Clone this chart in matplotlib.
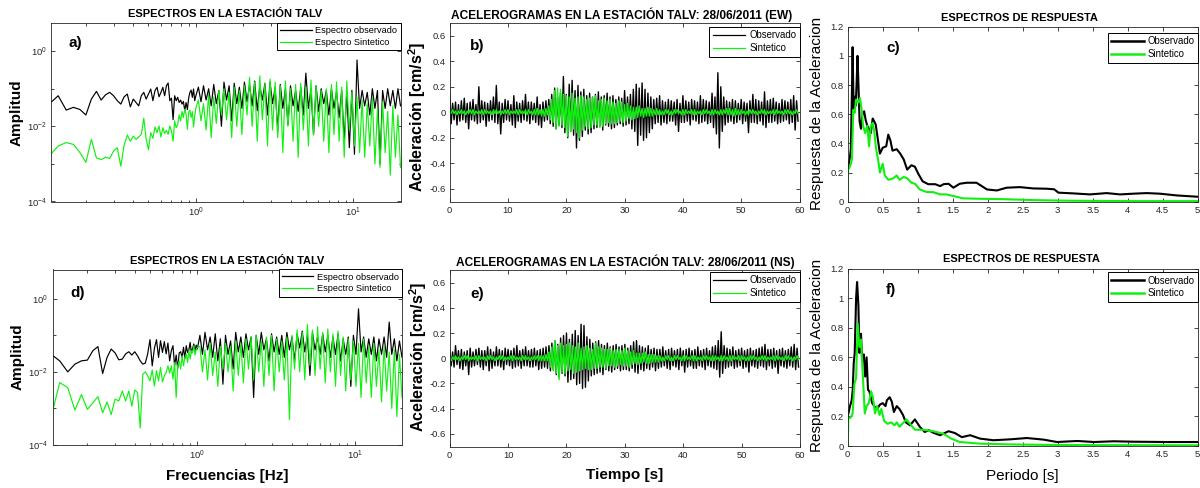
import numpy as np
import matplotlib
matplotlib.use("Agg")
import matplotlib.pyplot as plt
from matplotlib.ticker import FixedLocator, NullFormatter, LogFormatterMathtext, FuncFormatter

plt.rcParams['font.family'] = ['Liberation Sans', 'DejaVu Sans']
plt.rcParams['axes.unicode_minus'] = False
plt.rcParams['mathtext.fontset'] = 'custom'
plt.rcParams['mathtext.rm'] = 'Liberation Sans'
plt.rcParams['mathtext.bf'] = 'Liberation Sans:bold'
plt.rcParams['mathtext.it'] = 'Liberation Sans:italic'

GREEN = '#12f012'
AXC = '#262626'

# ---------------- Fourier amplitude spectra (station TALV) ----------------
# low band: FFT bins k/60 Hz, k = 7..60 ; high band: 80 samples from 1 to 20 Hz
bins_lo = np.arange(7, 61)
n_hi = 80

ew_spec_obs_lo = [0.039, 0.065, 0.027, 0.032, 0.028, 0.020, 0.053, 0.085, 0.050, 0.069,
                  0.080, 0.065, 0.048, 0.039, 0.061, 0.072, 0.033, 0.053, 0.043, 0.035,
                  0.065, 0.080, 0.053, 0.072, 0.098, 0.048, 0.089, 0.109, 0.061, 0.080,
                  0.109, 0.065, 0.120, 0.142, 0.048, 0.056, 0.015, 0.065, 0.048, 0.059,
                  0.043, 0.050, 0.039, 0.046, 0.026, 0.043, 0.028, 0.056, 0.080, 0.092,
                  0.059, 0.098, 0.048, 0.065]
ew_spec_obs_hi = [0.11, 0.045, 0.12, 0.05, 0.10, 0.035, 0.13, 0.04, 0.09, 0.010,
                  0.15, 0.05, 0.12, 0.014, 0.14, 0.04, 0.11, 0.03, 0.15, 0.045,
                  0.13, 0.035, 0.16, 0.026, 0.12, 0.05, 0.14, 0.02, 0.15, 0.04,
                  0.11, 0.0075, 0.13, 0.03, 0.10, 0.011, 0.12, 0.035, 0.09, 0.025,
                  0.11, 0.02, 0.26, 0.03, 0.10, 0.006, 0.12, 0.025, 0.10, 0.04,
                  0.09, 0.02, 0.10, 0.03, 0.085, 0.017, 0.09, 0.004, 0.08, 0.0027,
                  0.09, 0.0018, 0.58, 0.03, 0.09, 0.035, 0.08, 0.02, 0.10, 0.03,
                  0.09, 0.001, 0.09, 0.03, 0.10, 0.035, 0.09, 0.03, 0.10, 0.035]
ew_spec_syn_lo = [0.0016, 0.0030, 0.0037, 0.0033, 0.0020, 0.0011, 0.0045, 0.00145, 0.0013, 0.0015,
                  0.0014, 0.0022, 0.0027, 0.00087, 0.0032, 0.0059, 0.0040, 0.0055, 0.0045, 0.0052,
                  0.0061, 0.0164, 0.0045, 0.0024, 0.0068, 0.0048, 0.0096, 0.0068, 0.0102, 0.0052,
                  0.0092, 0.0064, 0.0078, 0.0061, 0.0102, 0.0075, 0.0040, 0.0139, 0.0092, 0.0113,
                  0.0201, 0.0139, 0.0247, 0.0171, 0.0285, 0.0210, 0.0083, 0.0232, 0.0268, 0.0171,
                  0.0247, 0.0096, 0.0189, 0.0303]
ew_spec_syn_hi = [0.05, 0.014, 0.04, 0.008, 0.07, 0.005, 0.06, 0.012, 0.09, 0.02,
                  0.10, 0.015, 0.08, 0.005, 0.11, 0.01, 0.09, 0.006, 0.12, 0.02,
                  0.20, 0.01, 0.15, 0.004, 0.22, 0.015, 0.14, 0.003, 0.18, 0.008,
                  0.15, 0.005, 0.12, 0.002, 0.16, 0.01, 0.10, 0.004, 0.13, 0.0015,
                  0.14, 0.008, 0.11, 0.003, 0.17, 0.006, 0.12, 0.01, 0.09, 0.004,
                  0.10, 0.002, 0.13, 0.006, 0.15, 0.004, 0.11, 0.0015, 0.16, 0.008,
                  0.08, 0.003, 0.06, 0.002, 0.05, 0.0015, 0.04, 0.003, 0.06, 0.001,
                  0.03, 0.0008, 0.045, 0.002, 0.025, 0.0005, 0.035, 0.0015, 0.02, 0.0008]

ns_spec_obs_lo = [0.031, 0.020, 0.010, 0.0163, 0.020, 0.021, 0.038, 0.049, 0.009, 0.0248,
                  0.042, 0.033, 0.0214, 0.0223, 0.031, 0.0355, 0.0288, 0.0355, 0.0275, 0.020,
                  0.0163, 0.0173, 0.031, 0.076, 0.0146, 0.044, 0.076, 0.0248, 0.071, 0.034,
                  0.067, 0.031, 0.0615, 0.020, 0.038, 0.052, 0.0146, 0.0288, 0.0124, 0.033,
                  0.0355, 0.0248, 0.047, 0.0233, 0.052, 0.034, 0.040, 0.064, 0.033, 0.044,
                  0.058, 0.038, 0.054, 0.042]
ns_spec_obs_hi = [0.10, 0.03, 0.12, 0.04, 0.09, 0.025, 0.11, 0.02, 0.08, 0.0046,
                  0.10, 0.03, 0.07, 0.012, 0.12, 0.035, 0.09, 0.025, 0.11, 0.04,
                  0.09, 0.002, 0.10, 0.03, 0.12, 0.04, 0.08, 0.02, 0.11, 0.035,
                  0.09, 0.03, 0.10, 0.025, 0.12, 0.04, 0.09, 0.02, 0.11, 0.045,
                  0.13, 0.035, 0.10, 0.008, 0.12, 0.04, 0.09, 0.03, 0.11, 0.035,
                  0.10, 0.025, 0.09, 0.03, 0.11, 0.02, 0.08, 0.03, 0.09, 0.004,
                  0.10, 0.03, 0.53, 0.035, 0.09, 0.025, 0.08, 0.03, 0.09, 0.02,
                  0.08, 0.03, 0.09, 0.025, 0.23, 0.03, 0.08, 0.02, 0.07, 0.025]
ns_spec_syn_lo = [0.0005, 0.0051, 0.0037, 0.0009, 0.0024, 0.00094, 0.00143, 0.0021, 0.00076, 0.0015,
                  0.00068, 0.0018, 0.0016, 0.0030, 0.0016, 0.0030, 0.00116, 0.0032, 0.0027, 0.00029,
                  0.0086, 0.010, 0.0078, 0.0057, 0.0113, 0.0041, 0.0107, 0.0057, 0.0132, 0.0053,
                  0.0078, 0.0096, 0.0146, 0.0092, 0.0146, 0.0063, 0.018, 0.0020, 0.0146, 0.020,
                  0.0118, 0.0275, 0.0146, 0.0248, 0.031, 0.018, 0.038, 0.0223, 0.038, 0.033,
                  0.052, 0.0288, 0.040, 0.047]
ns_spec_syn_hi = [0.05, 0.01, 0.04, 0.006, 0.06, 0.008, 0.035, 0.004, 0.05, 0.012,
                  0.06, 0.01, 0.05, 0.003, 0.07, 0.008, 0.06, 0.005, 0.08, 0.012,
                  0.09, 0.006, 0.10, 0.01, 0.07, 0.004, 0.09, 0.008, 0.10, 0.003,
                  0.08, 0.01, 0.07, 0.006, 0.09, 0.0005, 0.10, 0.012, 0.14, 0.01,
                  0.12, 0.006, 0.20, 0.015, 0.14, 0.008, 0.17, 0.012, 0.12, 0.005,
                  0.15, 0.01, 0.11, 0.004, 0.13, 0.008, 0.09, 0.003, 0.08, 0.006,
                  0.07, 0.004, 0.06, 0.002, 0.08, 0.005, 0.05, 0.002, 0.06, 0.004,
                  0.04, 0.0015, 0.05, 0.003, 0.035, 0.001, 0.04, 0.0006, 0.03, 0.002]

# ---------------- Accelerograms (4 samples per second, 0-60 s) ----------------
dt_acc = 0.25
ew_acc_obs = [
    .16, -.09, .07, -.06, .08, -.10, .06, -.07, .09, -.06, .11, -.08, .07, -.13, .08, -.06,
    .10, -.07, .06, -.09, .20, -.08, .09, -.06, .08, -.11, .07, -.07, .09, -.06, .12, -.08,
    .21, -.09, .08, -.17, .07, -.08, .10, -.06, .09, -.07, .06, -.10, .13, -.12, .08, -.07,
    .07, -.08, .09, -.06, .14, -.07, .08, -.09, .08, -.06, .07, -.08, .12, -.10, .06, -.12,
    .08, -.07, .09, -.06, .10, -.09, .14, -.11, .19, -.13, .12, -.10, .15, -.12, .28, -.16,
    .14, -.20, .22, -.15, .25, -.18, .17, -.28, .21, -.22, .16, -.19, .18, -.14, .13, -.17,
    .15, -.16, .12, -.13, .14, -.12, .16, -.11, .12, -.14, .13, -.10, .15, -.11, .12, -.13,
    .13, -.12, .10, -.10, .12, -.09, .11, -.11, .17, -.10, .12, -.09, .14, -.13, .18, -.15,
    .22, -.26, .19, -.18, .23, -.22, .18, -.20, .15, -.16, .12, -.13, .10, -.09, .11, -.08,
    .13, -.10, .09, -.08, .08, -.09, .10, -.07, .09, -.07, .08, -.10, .10, -.15, .07, -.08,
    .13, -.08, .09, -.07, .08, -.10, .10, -.06, .09, -.07, .08, -.09, .13, -.08, .10, -.07,
    .09, -.09, .08, -.08, .15, -.12, .12, -.17, .31, -.28, .20, -.15, .12, -.10, .09, -.08,
    .08, -.07, .10, -.09, .09, -.08, .07, -.06, .10, -.09, .08, -.07, .07, -.16, .09, -.08,
    .14, -.08, .10, -.09, .09, -.07, .08, -.10, .16, -.12, .09, -.08, .10, -.08, .11, -.07,
    .08, -.09, .07, -.08, .10, -.07, .09, -.06, .08, -.09, .10, -.08, .13, -.14, .09, -.07]
ew_acc_syn = [
    .01, -.01, .02, -.01, .01, -.02, .01, -.01, .02, -.01, .01, -.02, .01, -.01, .02, -.01,
    .02, -.02, .01, -.01, .01, -.01, .02, -.02, .02, -.01, .01, -.01, .01, -.02, .02, -.01,
    .02, -.01, .01, -.02, .01, -.01, .02, -.01, .02, -.02, .01, -.01, .01, -.01, .02, -.02,
    .02, -.01, .01, -.01, .02, -.02, .02, -.01, .01, -.02, .02, -.02, .03, -.02, .02, -.03,
    .02, -.03, .03, -.02, .05, -.06, .10, -.08, .17, -.13, .19, -.11, .18, -.10, .14, -.12,
    .13, -.19, .12, -.15, .15, -.13, .11, -.16, .12, -.20, .13, -.14, .12, -.11, .10, -.13,
    .11, -.12, .12, -.10, .13, -.10, .09, -.12, .10, -.11, .11, -.09, .09, -.08, .10, -.09,
    .08, -.09, .07, -.08, .09, -.07, .08, -.08, .06, -.07, .07, -.05, .05, -.06, .04, -.05,
    .04, -.04, .05, -.03, .03, -.04, .03, -.03, .04, -.03, .03, -.03, .02, -.02, .03, -.02,
    .02, -.02, .01, -.02, .02, -.01, .02, -.02, .01, -.02, .02, -.01, .02, -.01, .01, -.02,
    .02, -.02, .02, -.01, .01, -.01, .02, -.02, .02, -.02, .01, -.01, .01, -.02, .02, -.01,
    .02, -.01, .01, -.02, .02, -.02, .02, -.01, .01, -.02, .02, -.02, .02, -.01, .03, -.02,
    .03, -.02, .02, -.03, .03, -.02, .02, -.02, .02, -.01, .01, -.02, .01, -.02, .02, -.01,
    .02, -.01, .01, -.02, .01, -.01, .02, -.01, .02, -.02, .01, -.01, .01, -.01, .02, -.02,
    .02, -.01, .01, -.01, .01, -.02, .02, -.01, .02, -.01, .01, -.02, .01, -.01, .02, -.01]
ns_acc_obs = [
    .07, -.06, .05, -.07, .10, -.05, .06, -.08, .07, -.09, .05, -.06, .06, -.13, .08, -.07,
    .05, -.06, .07, -.05, .08, -.07, .06, -.09, .06, -.06, .09, -.10, .07, -.08, .05, -.06,
    .09, -.06, .07, -.07, .06, -.09, .08, -.05, .07, -.06, .06, -.08, .08, -.07, .10, -.06,
    .06, -.08, .07, -.06, .09, -.06, .06, -.07, .07, -.07, .08, -.06, .06, -.09, .07, -.08,
    .08, -.07, .09, -.08, .10, -.10, .12, -.09, .14, -.13, .11, -.15, .16, -.12, .18, -.14,
    .20, -.19, .15, -.17, .19, -.16, .22, -.21, .18, -.20, .27, -.24, .26, -.23, .17, -.18,
    .15, -.14, .12, -.13, .13, -.12, .14, -.11, .11, -.13, .10, -.09, .12, -.10, .09, -.11,
    .10, -.09, .11, -.08, .09, -.10, .10, -.09, .11, -.09, .08, -.10, .10, -.08, .13, -.11,
    .14, -.12, .10, -.09, .09, -.10, .08, -.08, .10, -.09, .07, -.07, .08, -.10, .07, -.08,
    .07, -.07, .09, -.06, .06, -.08, .07, -.09, .08, -.06, .06, -.07, .07, -.09, .08, -.06,
    .06, -.11, .07, -.07, .08, -.06, .06, -.08, .07, -.08, .09, -.06, .06, -.07, .07, -.09,
    .08, -.06, .06, -.07, .09, -.08, .10, -.09, .14, -.15, .21, -.12, .10, -.08, .08, -.07,
    .07, -.06, .09, -.08, .06, -.07, .07, -.06, .08, -.08, .06, -.07, .07, -.11, .08, -.06,
    .06, -.07, .07, -.08, .08, -.06, .09, -.07, .11, -.09, .07, -.06, .07, -.08, .08, -.07,
    .06, -.12, .07, -.06, .08, -.07, .06, -.08, .07, -.06, .09, -.07, .11, -.09, .08, -.07]
ns_acc_syn = [
    .01, -.02, .01, -.01, .02, -.01, .01, -.02, .01, -.01, .02, -.01, .02, -.02, .01, -.01,
    .01, -.01, .02, -.02, .02, -.01, .01, -.01, .01, -.02, .02, -.01, .02, -.01, .01, -.02,
    .01, -.01, .02, -.01, .02, -.02, .01, -.01, .01, -.01, .02, -.02, .02, -.01, .01, -.01,
    .01, -.02, .02, -.01, .02, -.01, .01, -.02, .01, -.01, .02, -.01, .02, -.02, .02, -.02,
    .02, -.02, .03, -.02, .05, -.07, .09, -.10, .14, -.12, .10, -.17, .12, -.11, .10, -.12,
    .11, -.10, .12, -.09, .10, -.12, .09, -.11, .12, -.10, .08, -.09, .09, -.08, .10, -.09,
    .08, -.09, .07, -.08, .12, -.08, .09, -.07, .08, -.07, .07, -.08, .07, -.06, .08, -.06,
    .06, -.07, .07, -.06, .07, -.05, .06, -.06, .08, -.06, .06, -.07, .05, -.05, .06, -.04,
    .04, -.05, .04, -.04, .04, -.03, .05, -.04, .03, -.04, .03, -.03, .03, -.03, .02, -.03,
    .02, -.02, .01, -.02, .02, -.01, .02, -.02, .01, -.02, .02, -.01, .02, -.01, .01, -.02,
    .02, -.02, .02, -.01, .01, -.01, .02, -.02, .02, -.02, .01, -.01, .01, -.02, .02, -.01,
    .02, -.01, .01, -.02, .02, -.02, .02, -.01, .01, -.02, .02, -.02, .02, -.01, .01, -.02,
    .02, -.02, .02, -.01, .01, -.01, .02, -.02, .02, -.01, .01, -.02, .01, -.02, .02, -.01,
    .02, -.01, .01, -.02, .01, -.01, .02, -.01, .02, -.02, .01, -.01, .01, -.01, .02, -.02,
    .02, -.01, .01, -.01, .01, -.02, .02, -.01, .02, -.01, .01, -.02, .01, -.01, .02, -.01]

# ---------------- Acceleration response spectra ----------------
ew_rs_obs_T = [0.0, 0.015, 0.03, 0.045, 0.06, 0.07, 0.085, 0.10, 0.115, 0.13, 0.14, 0.155, 0.17,
               0.19, 0.21, 0.235, 0.257, 0.28, 0.305, 0.33, 0.357, 0.38, 0.40, 0.43, 0.46, 0.50,
               0.55, 0.58, 0.61, 0.64, 0.70, 0.75, 0.80, 0.85, 0.91, 0.96, 1.01, 1.07, 1.15, 1.25,
               1.32, 1.37, 1.44, 1.51, 1.60, 1.70, 1.84, 1.99, 2.13, 2.27, 2.46, 2.65, 2.84, 2.95,
               3.01, 3.22, 3.46, 3.70, 3.89, 4.08, 4.27, 4.46, 4.70, 5.0]
ew_rs_obs = [0.22, 0.26, 0.30, 0.36, 0.75, 1.06, 0.62, 0.72, 0.66, 0.85, 1.00, 0.78, 0.55,
             0.50, 0.60, 0.62, 0.56, 0.52, 0.50, 0.47, 0.57, 0.55, 0.53, 0.43, 0.33, 0.37,
             0.38, 0.46, 0.42, 0.35, 0.36, 0.33, 0.29, 0.22, 0.25, 0.24, 0.19, 0.14, 0.12, 0.12,
             0.107, 0.12, 0.123, 0.096, 0.123, 0.13, 0.13, 0.084, 0.077, 0.096, 0.10, 0.091, 0.089, 0.085,
             0.062, 0.057, 0.05, 0.059, 0.05, 0.055, 0.059, 0.055, 0.043, 0.034]
ew_rs_syn_T = [0.0, 0.005, 0.02, 0.04, 0.06, 0.08, 0.10, 0.12, 0.15, 0.176, 0.20, 0.22, 0.25,
               0.28, 0.305, 0.33, 0.357, 0.38, 0.40, 0.44, 0.46, 0.50, 0.53, 0.58, 0.65, 0.70,
               0.74, 0.80, 0.85, 0.91, 0.96, 1.03, 1.13, 1.22, 1.32, 1.41, 1.51, 1.65, 1.89, 2.18,
               2.65, 3.13, 3.60, 4.10, 5.0]
ew_rs_syn = [0.0, 0.22, 0.23, 0.25, 0.29, 0.63, 0.61, 0.70, 0.68, 0.71, 0.63, 0.52, 0.47,
             0.52, 0.38, 0.52, 0.54, 0.48, 0.38, 0.27, 0.20, 0.26, 0.18, 0.15, 0.16, 0.18,
             0.15, 0.17, 0.16, 0.13, 0.123, 0.084, 0.066, 0.066, 0.05, 0.05, 0.039, 0.023, 0.02, 0.018,
             0.011, 0.007, 0.005, 0.004, 0.004]
ns_rs_obs_T = [0.0, 0.01, 0.033, 0.057, 0.072, 0.086, 0.10, 0.12, 0.134, 0.153, 0.167, 0.19, 0.205,
               0.23, 0.25, 0.27, 0.29, 0.31, 0.35, 0.38, 0.42, 0.46, 0.50, 0.54, 0.56, 0.60, 0.63,
               0.66, 0.70, 0.74, 0.79, 0.83, 0.89, 0.96, 1.03, 1.10, 1.16, 1.22, 1.32, 1.44, 1.53,
               1.63, 1.75, 1.89, 2.08, 2.32, 2.56, 2.80, 2.99, 3.28, 3.52, 3.80, 4.09, 4.57, 5.0]
ns_rs_obs = [0.20, 0.22, 0.27, 0.31, 0.38, 0.56, 0.63, 1.0, 1.11, 0.95, 0.63, 0.76, 0.59,
             0.62, 0.47, 0.60, 0.38, 0.37, 0.29, 0.27, 0.25, 0.28, 0.29, 0.27, 0.31, 0.33, 0.30,
             0.23, 0.27, 0.25, 0.21, 0.16, 0.14, 0.18, 0.13, 0.095, 0.107, 0.09, 0.073, 0.10, 0.088,
             0.06, 0.073, 0.05, 0.039, 0.045, 0.054, 0.043, 0.027, 0.034, 0.027, 0.032, 0.029, 0.027, 0.027]
ns_rs_syn_T = [0.0, 0.01, 0.04, 0.07, 0.096, 0.12, 0.143, 0.167, 0.19, 0.215, 0.244, 0.27, 0.30,
               0.335, 0.36, 0.39, 0.42, 0.455, 0.48, 0.52, 0.57, 0.62, 0.67, 0.70, 0.74, 0.80,
               0.84, 0.89, 0.96, 1.08, 1.22, 1.36, 1.48, 1.60, 1.89, 2.27, 2.90, 3.60, 5.0]
ns_rs_syn = [0.0, 0.19, 0.19, 0.22, 0.42, 0.46, 0.83, 0.67, 0.72, 0.49, 0.22, 0.27, 0.29,
             0.37, 0.33, 0.22, 0.27, 0.21, 0.25, 0.17, 0.15, 0.16, 0.14, 0.16, 0.13, 0.16,
             0.18, 0.15, 0.11, 0.11, 0.10, 0.084, 0.05, 0.027, 0.016, 0.011, 0.007, 0.006, 0.005]

# ---------------- figure ----------------
W, H = 1200, 488
fig = plt.figure(figsize=(W / 100, H / 100), dpi=100)


def px_axes(l, t, r, b):
    return fig.add_axes([l / W, 1 - b / H, (r - l) / W, (b - t) / H])


def px_text(x, y, s, **kw):
    fig.text(x / W, 1 - y / H, s, **kw)


def style(ax):
    for s in ax.spines.values():
        s.set_color(AXC)
        s.set_linewidth(0.6)
    ax.tick_params(which='both', direction='in', top=True, right=True, colors=AXC,
                   labelsize=6.8, width=0.6, pad=3)
    ax.tick_params(which='major', length=3)
    ax.tick_params(which='minor', length=1.8)


def legend(ax, labels, top, lw, fs):
    h = [plt.Line2D([], [], color='k', lw=lw), plt.Line2D([], [], color=GREEN, lw=lw)]
    leg = ax.legend(h, labels, loc='upper right', bbox_to_anchor=(1.0, top),
                    borderaxespad=0, fontsize=fs, frameon=True, fancybox=False,
                    edgecolor='k', framealpha=1, handlelength=3.4, handletextpad=0.4,
                    labelspacing=0.3, borderpad=0.35)
    leg.get_frame().set_linewidth(0.7)


freq_lo = bins_lo / 60.0
freq_hi = np.geomspace(1.0, 20.0, n_hi + 1)[1:]
freq = np.concatenate([freq_lo, freq_hi])


def spectrum_panel(ax, obs, syn, ytop, tag, ty):
    ax.loglog(freq, obs, color='k', lw=0.85)
    ax.loglog(freq, syn, color=GREEN, lw=0.85)
    ax.set_xlim(0.12, 20)
    ax.set_ylim(1e-4, ytop)
    style(ax)
    ax.xaxis.set_major_locator(FixedLocator([1, 10]))
    ax.xaxis.set_minor_locator(FixedLocator([0.2, 0.3, 0.4, 0.5, 0.6, 0.7, 0.8, 0.9,
                                             2, 3, 4, 5, 6, 7, 8, 9]))
    ax.yaxis.set_major_locator(FixedLocator([1e-4, 1e-2, 1e0]))
    ax.yaxis.set_minor_locator(FixedLocator([1e-3, 1e-1]))
    ax.xaxis.set_major_formatter(LogFormatterMathtext())
    ax.yaxis.set_major_formatter(LogFormatterMathtext())
    ax.xaxis.set_minor_formatter(NullFormatter())
    ax.yaxis.set_minor_formatter(NullFormatter())
    legend(ax, ['Espectro observado', 'Espectro Sintetico'], 1.0, 0.9, 6.6)
    ax.text(0.05, ty, tag, transform=ax.transAxes, fontsize=11, fontweight='bold',
            va='center', ha='left')


def accel_panel(ax, obs, syn, tag, ty, ltop):
    t = np.arange(len(obs)) * dt_acc
    ax.plot(t, obs, color='k', lw=1.0)
    ax.plot(t, syn, color=GREEN, lw=1.0)
    ax.set_xlim(0, 60)
    ax.set_ylim(-0.7, 0.7)
    style(ax)
    ax.xaxis.set_major_locator(FixedLocator(np.arange(0, 61, 10)))
    ax.yaxis.set_major_locator(FixedLocator([-0.6, -0.4, -0.2, 0, 0.2, 0.4, 0.6]))
    ax.yaxis.set_major_formatter(FuncFormatter(lambda v, p: '%g' % round(v, 2)))
    legend(ax, ['Observado', 'Sintetico'], ltop, 0.9, 6.9)
    ax.text(0.058, ty, tag, transform=ax.transAxes, fontsize=11, fontweight='bold',
            va='center', ha='left')


def response_panel(ax, T_obs, obs, T_syn, syn, tag, ty, ltop):
    ax.plot(T_obs, obs, color='k', lw=1.5)
    ax.plot(T_syn, syn, color=GREEN, lw=1.5)
    ax.set_xlim(0, 5)
    ax.set_ylim(0, 1.2)
    style(ax)
    ax.xaxis.set_major_locator(FixedLocator(np.arange(0, 5.01, 0.5)))
    ax.yaxis.set_major_locator(FixedLocator(np.arange(0, 1.21, 0.2)))
    fmt = FuncFormatter(lambda v, p: '%g' % round(v, 2))
    ax.xaxis.set_major_formatter(fmt)
    ax.yaxis.set_major_formatter(fmt)
    legend(ax, ['Observado', 'Sintetico'], ltop, 1.8, 6.9)
    ax.text(0.11, ty, tag, transform=ax.transAxes, fontsize=11, fontweight='bold',
            va='center', ha='left')


ax_a = px_axes(51, 23, 400.5, 201.5)
ax_b = px_axes(449.7, 23, 799.5, 201.5)
ax_c = px_axes(847.7, 26.7, 1197.7, 201.7)
ax_d = px_axes(52.5, 269.5, 402, 445)
ax_e = px_axes(449.7, 270, 800, 446.5)
ax_f = px_axes(847.7, 268.7, 1197.7, 446)

spectrum_panel(ax_a, ew_spec_obs_lo + ew_spec_obs_hi, ew_spec_syn_lo + ew_spec_syn_hi, 5.6, 'a)', 0.888)
spectrum_panel(ax_d, ns_spec_obs_lo + ns_spec_obs_hi, ns_spec_syn_lo + ns_spec_syn_hi, 6.3, 'd)', 0.864)
accel_panel(ax_b, ew_acc_obs, ew_acc_syn, 'b)', 0.873, 0.978)
accel_panel(ax_e, ns_acc_obs, ns_acc_syn, 'e)', 0.863, 0.989)
response_panel(ax_c, ew_rs_obs_T, ew_rs_obs, ew_rs_syn_T, ew_rs_syn, 'c)', 0.877, 0.964)
response_panel(ax_f, ns_rs_obs_T, ns_rs_obs, ns_rs_syn_T, ns_rs_syn, 'f)', 0.88, 0.98)

# titles
title_kw = dict(ha='center', va='baseline', fontweight='bold')
px_text(225, 17.3, 'ESPECTROS EN LA ESTACIÓN TALV', fontsize=8, **title_kw)
px_text(622, 19.3, 'ACELEROGRAMAS EN LA ESTACIÓN TALV: 28/06/2011 (EW)', fontsize=8.6, **title_kw)
px_text(1019, 20.7, 'ESPECTROS DE RESPUESTA', fontsize=8, **title_kw)
px_text(227, 264, 'ESPECTROS EN LA ESTACIÓN TALV', fontsize=8, **title_kw)
px_text(625, 266, 'ACELEROGRAMAS EN LA ESTACIÓN TALV: 28/06/2011 (NS)', fontsize=8.6, **title_kw)
px_text(1021, 262.3, 'ESPECTROS DE RESPUESTA', fontsize=8, **title_kw)

# axis labels
ylab_bold = dict(rotation=90, ha='center', va='center', fontweight='bold')
px_text(17, 113, 'Amplitud', fontsize=11, **ylab_bold)
px_text(17.5, 357, 'Amplitud', fontsize=11, **ylab_bold)
px_text(417.5, 117, r'Aceleración [cm/s$^\mathbf{2}$]', fontsize=11.5, **ylab_bold)
px_text(418.5, 357, r'Aceleración [cm/s$^\mathbf{2}$]', fontsize=11.5, **ylab_bold)
px_text(817.5, 113, 'Respuesta de la Aceleracion', fontsize=11, rotation=90, ha='center', va='center')
px_text(816.7, 355, 'Respuesta de la Aceleracion', fontsize=11, rotation=90, ha='center', va='center')

px_text(227.5, 476, 'Frecuencias [Hz]', fontsize=11, ha='center', va='center', fontweight='bold')
px_text(625, 475, 'Tiempo [s]', fontsize=11, ha='center', va='center', fontweight='bold')
px_text(1022, 476, 'Periodo [s]', fontsize=11, ha='center', va='center')

fig.savefig('out.png', dpi=100, facecolor='white')
